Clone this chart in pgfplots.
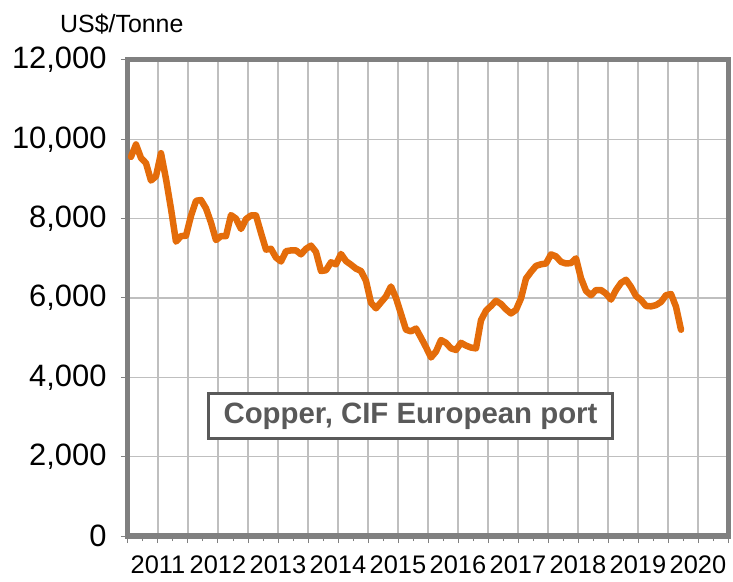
\documentclass[border=0pt]{standalone}
\usepackage{fontspec}
\setmainfont{Liberation Sans}
\usepackage{pgfplots}
\pgfplotsset{compat=1.18}
\definecolor{cuorange}{HTML}{E46C0A}
\definecolor{framegray}{HTML}{808080}
\definecolor{gridgray}{HTML}{BFBFBF}
\definecolor{boxgray}{HTML}{595959}
\begin{document}
\begin{tikzpicture}
\begin{axis}[
  scale only axis, width=600bp, height=476bp,
  xmin=0, xmax=120, ymin=0, ymax=12000,
  axis line style={framegray, line width=5bp},
  xtick={0,6,...,120},
  xticklabels={,2011,,2012,,2013,,2014,,2015,,2016,,2017,,2018,,2019,,2020,},
  minor x tick num=1,
  ytick={0,2000,...,12000},
  grid=major,
  major grid style={gridgray, line width=1.3bp},
  tick align=outside,
  tick pos=left,
  major tick length=7bp, minor tick length=5bp,
  every tick/.style={framegray, line width=1bp},
  yticklabel style={font=\fontsize{31}{33}\selectfont, xshift=-11bp},
  xticklabel style={font=\fontsize{25.5}{28}\selectfont, yshift=-9bp},
  /pgf/number format/assume math mode=true,
  /pgf/number format/1000 sep={,},
  scaled y ticks=false,
]
\addplot[cuorange, line width=6.5bp, line join=round, line cap=round] table[x expr=\coordindex+0.6, y=v] {
v
9560
9870
9530
9400
8960
9070
9650
9000
8250
7420
7560
7570
8070
8450
8470
8260
7900
7460
7560
7560
8090
8000
7740
7990
8080
8080
7640
7220
7240
7020
6920
7180
7200
7200
7100
7240
7320
7160
6680
6700
6900
6850
7110
6930
6840
6740
6680
6430
5880
5740
5890
6040
6290
6000
5600
5200
5160
5230
5000
4760
4500
4650
4940
4870
4730
4690
4870
4800
4750
4730
5440
5680
5800
5930
5850
5715
5610
5700
5990
6490
6660
6810
6850
6870
7100
7050
6910
6870
6880
7000
6500
6180
6070
6200
6200
6110
5960
6200
6380
6460
6280
6050
5950
5800
5790
5820
5900
6070
6100
5780
5200
};
\node[draw=boxgray, line width=3bp, fill=white, text=boxgray,
  font=\bfseries\fontsize{29.5}{32}\selectfont,
  minimum width=403bp, minimum height=45bp, inner sep=0pt]
  at (axis cs:56.5,3013) {Copper, CIF European port};
\end{axis}
\node[anchor=base west, font=\fontsize{25}{27}\selectfont, inner sep=0pt] at (-68bp,503bp) {US\$/Tonne};
\pgfresetboundingbox
\path (-128bp,-46bp) rectangle (605bp,536bp);
\end{tikzpicture}
\end{document}
